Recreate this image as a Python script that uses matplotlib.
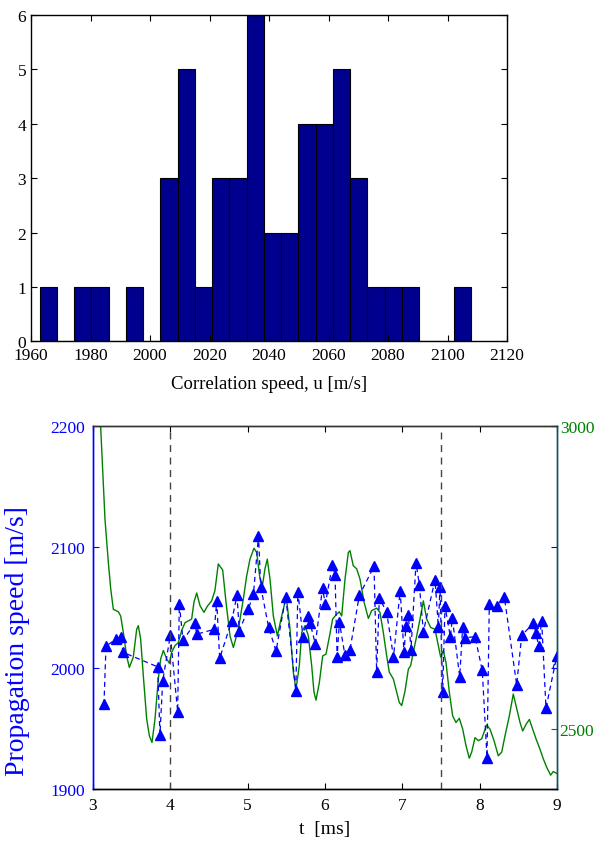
import numpy as np
import matplotlib
matplotlib.use("Agg")
import matplotlib.pyplot as plt

plt.rcParams['font.family'] = ['Liberation Serif', 'DejaVu Serif']

# --- histogram data (top panel) ---
bin_lo = 1962.9
bin_hi = 2107.9
counts = [1, 0, 1, 1, 0, 1, 0, 3, 5, 1, 3, 3, 6, 2, 2, 4, 4, 5, 3, 1, 1, 1, 0, 0, 1]

# --- propagation speed points (left axis, bottom panel) ---
t_pts = [3.142, 3.168, 3.297, 3.362, 3.388, 3.836, 3.866, 3.901, 4.000, 4.095,
         4.116, 4.164, 4.319, 4.341, 4.569, 4.600, 4.638, 4.794, 4.862, 4.892,
         5.010, 5.075, 5.140, 5.170, 5.270, 5.367, 5.493, 5.623, 5.649, 5.715,
         5.780, 5.808, 5.875, 5.968, 6.004, 6.095, 6.130, 6.157, 6.186, 6.257,
         6.323, 6.444, 6.634, 6.668, 6.703, 6.798, 6.886, 6.972, 7.022, 7.048,
         7.078, 7.112, 7.177, 7.220, 7.272, 7.423, 7.466, 7.487, 7.522, 7.552,
         7.621, 7.647, 7.742, 7.781, 7.811, 7.940, 8.034, 8.095, 8.125, 8.224,
         8.319, 8.479, 8.544, 8.694, 8.729, 8.763, 8.802, 8.858, 8.998]
v_pts = [1970, 2018, 2024, 2026, 2013, 2001, 1945, 1989, 2027, 1964,
         2053, 2023, 2037, 2028, 2032, 2055, 2008, 2039, 2060, 2031,
         2049, 2061, 2109, 2067, 2034, 2014, 2059, 1981, 2063, 2026,
         2043, 2037, 2020, 2066, 2053, 2085, 2077, 2009, 2038, 2011,
         2015, 2060, 2084, 1997, 2058, 2046, 2009, 2064, 2013, 2035,
         2044, 2015, 2087, 2069, 2030, 2073, 2034, 2067, 1980, 2051,
         2026, 2041, 1993, 2034, 2025, 2026, 1998, 1926, 2053, 2051,
         2059, 1986, 2027, 2037, 2029, 2018, 2039, 1967, 2010]
# dashed line tail past the last marker
t_tail = [8.95, 9.10]
v_tail = [2000, 2000]

# --- green curve (right axis) ---
t_g = [3.095, 3.155, 3.198, 3.229, 3.263, 3.328, 3.358, 3.392, 3.435, 3.470,
       3.521, 3.565, 3.586, 3.616, 3.651, 3.694, 3.729, 3.763, 3.802, 3.845,
       3.875, 3.910, 3.953, 3.987, 4.017, 4.060, 4.103, 4.147, 4.190, 4.233,
       4.276, 4.306, 4.341, 4.384, 4.435, 4.478, 4.534, 4.577, 4.620, 4.677,
       4.720, 4.772, 4.815, 4.879, 4.944, 4.987, 5.030, 5.082, 5.117, 5.160,
       5.194, 5.224, 5.254, 5.289, 5.332, 5.384, 5.440, 5.483, 5.505, 5.548,
       5.591, 5.625, 5.668, 5.699, 5.742, 5.785, 5.828, 5.858, 5.884, 5.927,
       5.970, 6.013, 6.056, 6.099, 6.151, 6.186, 6.216, 6.259, 6.302, 6.323,
       6.366, 6.410, 6.453, 6.505, 6.561, 6.604, 6.668, 6.711, 6.754, 6.798,
       6.832, 6.884, 6.927, 6.961, 6.992, 7.035, 7.078, 7.108, 7.142, 7.186,
       7.229, 7.272, 7.315, 7.367, 7.423, 7.466, 7.496, 7.530, 7.565, 7.608,
       7.651, 7.694, 7.737, 7.781, 7.823, 7.866, 7.897, 7.940, 7.983, 8.026,
       8.091, 8.134, 8.186, 8.241, 8.285, 8.328, 8.384, 8.435, 8.470, 8.522,
       8.557, 8.600, 8.643, 8.686, 8.729, 8.780, 8.823, 8.867, 8.918, 8.952,
       8.996]
v_g = [3010, 2846, 2775, 2731, 2697, 2693, 2686, 2659, 2620, 2601,
       2618, 2664, 2670, 2648, 2587, 2516, 2488, 2477, 2516, 2582,
       2615, 2629, 2615, 2608, 2626, 2637, 2642, 2662, 2675, 2678,
       2681, 2709, 2724, 2703, 2692, 2702, 2711, 2728, 2772, 2762,
       2709, 2653, 2634, 2664, 2714, 2752, 2780, 2798, 2791, 2747,
       2739, 2764, 2780, 2747, 2686, 2653, 2686, 2709, 2711, 2664,
       2593, 2565, 2604, 2659, 2670, 2653, 2604, 2560, 2547, 2576,
       2620, 2623, 2651, 2681, 2689, 2693, 2686, 2747, 2791, 2794,
       2769, 2764, 2747, 2709, 2682, 2695, 2699, 2692, 2659, 2620,
       2593, 2582, 2560, 2543, 2538, 2562, 2598, 2604, 2626, 2653,
       2681, 2711, 2681, 2667, 2664, 2637, 2618, 2629, 2609, 2560,
       2521, 2510, 2517, 2499, 2472, 2451, 2461, 2485, 2480, 2483,
       2506, 2499, 2480, 2455, 2461, 2488, 2521, 2557, 2538, 2510,
       2496, 2507, 2515, 2499, 2483, 2466, 2450, 2436, 2423, 2429,
       2426]

event_times = [4.0, 7.5]

fig = plt.figure(figsize=(6.13, 8.45), dpi=100)

# ---------- top: histogram ----------
ax_h = fig.add_axes([0.0506, 0.595, 0.7765, 0.386])
edges = np.linspace(bin_lo, bin_hi, len(counts) + 1)
ax_h.bar(edges[:-1], counts, width=np.diff(edges), align='edge',
         color='#00008F', edgecolor='black', linewidth=0.8)
ax_h.set_xlim(1960, 2120)
ax_h.set_ylim(0, 6)
ax_h.set_xticks(np.arange(1960, 2121, 20))
ax_h.set_yticks(range(0, 7))
ax_h.tick_params(direction='in', top=True, right=True, labelsize=12.5, length=4)
ax_h.tick_params(axis='x', pad=4)
ax_h.set_xlabel('Correlation speed, u [m/s]', fontsize=13.5, labelpad=9)
for s in ax_h.spines.values():
    s.set_linewidth(1.0)

# ---------- bottom: speeds vs time ----------
ax = fig.add_axes([0.1517, 0.065, 0.7569, 0.4297])
ax2 = ax.twinx()
ax.set_zorder(ax2.get_zorder() + 1)
ax.patch.set_visible(False)

ax2.plot(t_g, v_g, color='#008000', linewidth=1.0)
ax2.set_ylim(2400, 3000)
ax2.set_yticks([2500, 3000])
ax2.tick_params(axis='y', direction='in', colors='#008000', labelsize=12.5,
                length=4, pad=2)
ax2.set_ylabel('Sound speed [m/s]', color='#008000', fontsize=19, labelpad=17)

ax.plot(t_pts + t_tail, v_pts + v_tail, color='blue', linestyle='--',
        dashes=(4, 3), linewidth=0.9)
ax.plot(t_pts, v_pts, linestyle='none', marker='^', color='blue',
        markersize=7, markeredgecolor='blue')
for te in event_times:
    ax.axvline(te, color='#444444', linestyle='--', dashes=(5, 4), linewidth=1.0)

ax.set_xlim(3, 9)
ax.set_ylim(1900, 2200)
ax.set_xticks(range(3, 10))
ax.set_yticks([1900, 2000, 2100, 2200])
ax.tick_params(axis='x', direction='in', top=True, labelsize=12.5, length=4, pad=6)
ax.tick_params(axis='y', direction='in', right=True, colors='blue',
               labelsize=12.5, length=4, pad=6)
ax.set_xlabel('t  [ms]', fontsize=14, labelpad=5)
ax.set_ylabel('Propagation speed [m/s]', color='blue', fontsize=20)
ax.yaxis.set_label_coords(-0.135, 0.41)

ax.spines['left'].set_color('blue')
ax.spines['right'].set_color('#13505f')
ax2.spines['right'].set_color('#13505f')
ax2.spines['left'].set_color('blue')
ax.spines['top'].set_color('#333333')
ax2.spines['top'].set_color('#333333')
for s in list(ax.spines.values()) + list(ax2.spines.values()):
    s.set_linewidth(1.0)

fig.savefig('out.png', dpi=100)
